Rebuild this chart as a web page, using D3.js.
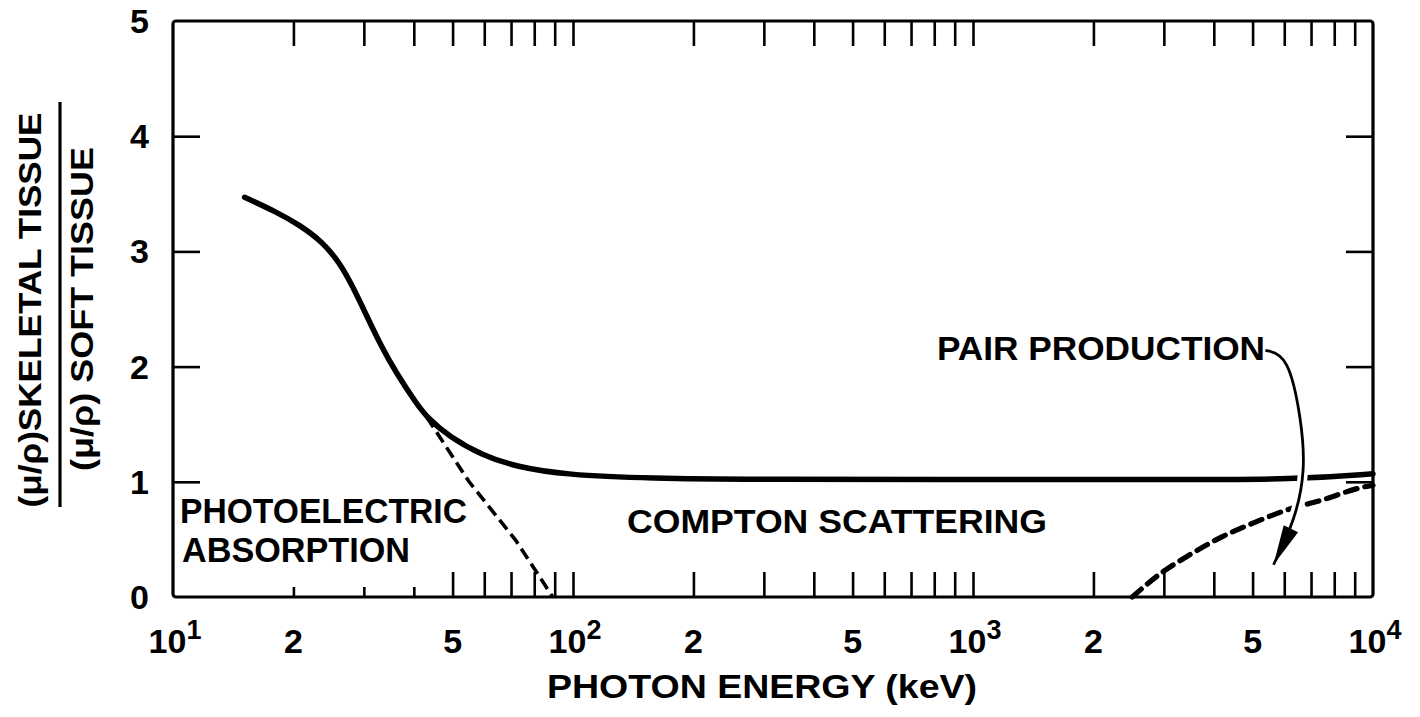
<!DOCTYPE html>
<html>
<head>
<meta charset="utf-8">
<script src="https://cdn.jsdelivr.net/npm/d3@7"></script>
<style>
  html, body { margin: 0; padding: 0; background: #fff; }
  svg { display: block; }
  text { font-family: "Liberation Sans", Arial, Helvetica, sans-serif; font-weight: bold; fill: #000; }
</style>
</head>
<body>
<svg id="chart" width="1420" height="717"></svg>
<script>
// ---------------- DATA ----------------
// Total ratio curve (photon energy keV, ratio)
const totalEnergy = [15.1, 18.2, 20.7, 23.7, 26.1, 28.1, 30.5, 32.9, 36.2, 40.6, 43.1, 49.1, 59.4, 72.1, 96, 155, 300, 1000, 3000, 6500, 10000];
const totalRatio  = [3.47, 3.34, 3.23, 3.08, 2.90, 2.70, 2.44, 2.20, 1.94, 1.68, 1.56, 1.39, 1.23, 1.13, 1.06, 1.03, 1.02, 1.02, 1.02, 1.02, 1.07];
// Photoelectric absorption (dashed)
const photoEnergy = [43.1, 55, 72, 89];
const photoRatio  = [1.56, 1.0, 0.49, 0.0];
// Pair production (dashed)
const pairEnergy = [2500, 2960, 3456, 4178, 5081, 6140, 7430, 9350, 10000];
const pairRatio  = [0.0, 0.21, 0.36, 0.52, 0.65, 0.76, 0.84, 0.95, 0.97];
// Annotation arrow (data coordinates)
const arrowEnergy = [5383, 6140, 6620, 6780, 6390, 5640];
const arrowRatio  = [2.14, 2.10, 1.54, 1.10, 0.67, 0.28];

// Axis ticks
const yTickValues = [0, 1, 2, 3, 4, 5];
const yInnerTicks = [1, 2, 3, 4];
const minorTicks = [20,30,40,50,60,70,80,90,200,300,400,500,600,700,800,900,2000,3000,4000,5000,6000,7000,8000,9000];
const decadeTicks = [100, 1000];
const bottomShortTicks = [20, 30, 40];
const xLabelValues = [10, 20, 50, 100, 200, 500, 1000, 2000, 5000, 10000];
const xLabelBase   = ["10", "2", "5", "10", "2", "5", "10", "2", "5", "10"];
const xLabelExp    = ["1", "", "", "2", "", "", "3", "", "", "4"];

// Text
const xTitle = "PHOTON  ENERGY (keV)";
const yNumerator = "(μ/ρ)SKELETAL TISSUE";
const yDenominator = "(μ/ρ) SOFT TISSUE";

// ---------------- CHART ----------------
const svg = d3.select("#chart");
svg.append("rect").attr("width", 1420).attr("height", 717).attr("fill", "#fff");

const x = d3.scaleLog().domain([10, 10000]).range([173, 1373]);
const y = d3.scaleLinear().domain([0, 5]).range([597, 21]);

const ink = "#000";

// Ticks
function styleAxis(g) {
  g.select(".domain").remove();
  g.selectAll(".tick line").attr("stroke", ink).attr("stroke-width", 2.6);
  g.selectAll(".tick text").remove();
}
svg.append("g").attr("transform", `translate(0,${y(5)})`)
  .call(d3.axisTop(x).tickValues(minorTicks.concat(decadeTicks)).tickSize(-25).tickFormat(""))
  .call(styleAxis);
svg.append("g").attr("transform", `translate(0,${y(0)})`)
  .call(d3.axisBottom(x).tickValues(minorTicks.filter(v => !bottomShortTicks.includes(v)).concat(decadeTicks)).tickSize(-25).tickFormat(""))
  .call(styleAxis);
svg.append("g").attr("transform", `translate(0,${y(0)})`)
  .call(d3.axisBottom(x).tickValues(bottomShortTicks).tickSize(-10).tickFormat(""))
  .call(styleAxis);
svg.append("g").attr("transform", `translate(${x(10)},0)`)
  .call(d3.axisLeft(y).tickValues(yInnerTicks).tickSize(-27).tickFormat(""))
  .call(styleAxis);
svg.append("g").attr("transform", `translate(${x(10000)},0)`)
  .call(d3.axisRight(y).tickValues(yInnerTicks).tickSize(-27).tickFormat(""))
  .call(styleAxis);

// Frame
svg.append("rect")
  .attr("x", x(10)).attr("y", y(5))
  .attr("width", x(10000) - x(10)).attr("height", y(0) - y(5))
  .attr("rx", 3)
  .attr("fill", "none").attr("stroke", ink).attr("stroke-width", 3.2);

// Y tick labels
svg.append("g").selectAll("text").data(yTickValues).join("text")
  .attr("x", 149).attr("y", d => y(d) + 12)
  .attr("text-anchor", "end")
  .attr("font-size", 34)
  .text(d => d);

// X tick labels
const xl = svg.append("g").selectAll("text").data(xLabelValues).join("text")
  .attr("x", (d, i) => x(d) + (xLabelExp[i] ? 2 : 0))
  .attr("y", 653)
  .attr("text-anchor", "middle")
  .attr("font-size", 34);
xl.append("tspan").text((d, i) => xLabelBase[i]);
xl.append("tspan").attr("dy", -14).attr("font-size", 27).text((d, i) => xLabelExp[i]);

// X title
svg.append("text").attr("x", 762).attr("y", 698)
  .attr("text-anchor", "middle").attr("font-size", 33)
  .attr("textLength", 430).attr("lengthAdjust", "spacingAndGlyphs")
  .text(xTitle);

// Y title (fraction)
svg.append("text").attr("transform", "translate(41,310) rotate(-90)")
  .attr("text-anchor", "middle").attr("font-size", 32)
  .attr("textLength", 395).attr("lengthAdjust", "spacingAndGlyphs")
  .text(yNumerator);
svg.append("line").attr("x1", 60).attr("x2", 60).attr("y1", 102).attr("y2", 507)
  .attr("stroke", ink).attr("stroke-width", 3.2);
svg.append("text").attr("transform", "translate(93,309) rotate(-90)")
  .attr("text-anchor", "middle").attr("font-size", 32)
  .attr("textLength", 324).attr("lengthAdjust", "spacingAndGlyphs")
  .text(yDenominator);

// Lines
const smooth = d3.line().x(d => x(d[0])).y(d => y(d[1])).curve(d3.curveMonotoneX);
const basis = d3.line().x(d => x(d[0])).y(d => y(d[1])).curve(d3.curveBasis);

svg.append("path")
  .datum(totalEnergy.map((e, i) => [e, totalRatio[i]]))
  .attr("d", basis)
  .attr("fill", "none").attr("stroke", ink).attr("stroke-width", 5.5)
  .attr("stroke-linecap", "round");

svg.append("path")
  .datum(photoEnergy.map((e, i) => [e, photoRatio[i]]))
  .attr("d", d3.line().x(d => x(d[0])).y(d => y(d[1])))
  .attr("fill", "none").attr("stroke", ink).attr("stroke-width", 3.6)
  .attr("stroke-dasharray", "12,6");

svg.append("path")
  .datum(pairEnergy.map((e, i) => [e, pairRatio[i]]))
  .attr("d", smooth)
  .attr("fill", "none").attr("stroke", ink).attr("stroke-width", 5.2)
  .attr("stroke-dasharray", "12,8").attr("stroke-linecap", "round");

// Arrow with white halo
const arrowPts = arrowEnergy.map((e, i) => [e, arrowRatio[i]]);
svg.append("path").datum(arrowPts).attr("d", basis)
  .attr("fill", "none").attr("stroke", "#fff").attr("stroke-width", 10);
svg.append("path").datum(arrowPts).attr("d", basis)
  .attr("fill", "none").attr("stroke", ink).attr("stroke-width", 2.8);
// arrowhead
{
  const tip = [x(arrowPts[arrowPts.length - 1][0]), y(arrowPts[arrowPts.length - 1][1])];
  const prev = [x(arrowPts[arrowPts.length - 2][0]), y(arrowPts[arrowPts.length - 2][1])];
  const ang = Math.atan2(tip[1] - prev[1], tip[0] - prev[0]);
  const L = 40, W = 8;
  const bx = tip[0] - L * Math.cos(ang), by = tip[1] - L * Math.sin(ang);
  const px = -Math.sin(ang) * W, py = Math.cos(ang) * W;
  svg.append("path")
    .attr("d", `M${tip[0]},${tip[1]}L${bx + px},${by + py}L${bx - px},${by - py}Z`)
    .attr("fill", ink);
}

// Annotations
svg.append("text").attr("x", 180).attr("y", 523).attr("font-size", 35)
  .attr("textLength", 287).attr("lengthAdjust", "spacingAndGlyphs").text("PHOTOELECTRIC");
svg.append("text").attr("x", 182).attr("y", 562).attr("font-size", 35)
  .attr("textLength", 228).attr("lengthAdjust", "spacingAndGlyphs").text("ABSORPTION");
svg.append("text").attr("x", 627).attr("y", 533).attr("font-size", 33)
  .attr("textLength", 420).attr("lengthAdjust", "spacingAndGlyphs").text("COMPTON  SCATTERING");
svg.append("text").attr("x", 937).attr("y", 360).attr("font-size", 33)
  .attr("textLength", 328).attr("lengthAdjust", "spacingAndGlyphs").text("PAIR PRODUCTION");
</script>
</body>
</html>
